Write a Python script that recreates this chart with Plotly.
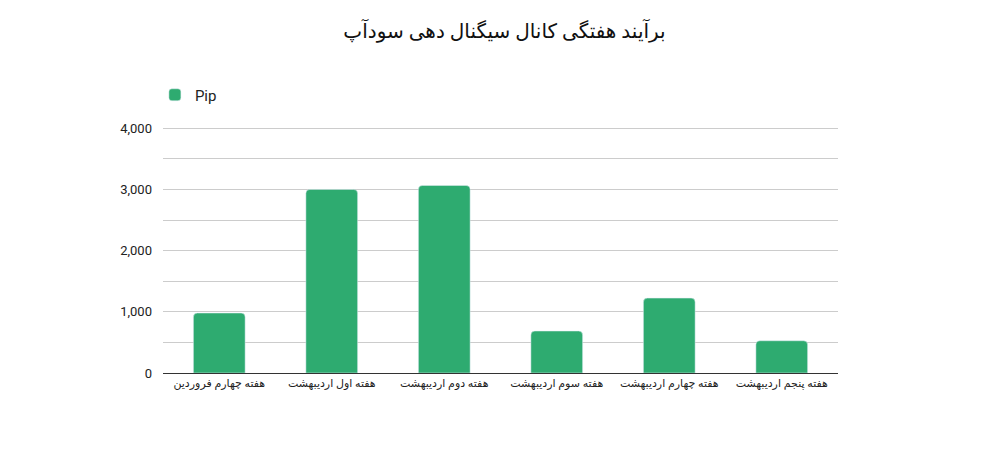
import plotly.graph_objects as go

weeks = [
    "هفته چهارم فروردین",
    "هفته اول اردیبهشت",
    "هفته دوم اردیبهشت",
    "هفته سوم اردیبهشت",
    "هفته چهارم اردیبهشت",
    "هفته پنجم اردیبهشت",
]
pips = [980, 3000, 3065, 686, 1224, 527]
y_ticks = [0, 1000, 2000, 3000, 4000]
y_tick_labels = ["0", "1,000", "2,000", "3,000", "4,000"]

green = "#2eab70"

fig = go.Figure()
fig.add_bar(x=weeks, y=pips, name="Pip", marker=dict(color=green, cornerradius=4))

# page body has an 8px margin, so the figure is drawn a bit smaller
fig.update_layout(
    width=993,
    height=441,
    margin=dict(l=155, r=163, t=119, b=76),
    paper_bgcolor="white",
    plot_bgcolor="white",
    font=dict(family="Roboto, DejaVu Sans, sans-serif", color="#222"),
    title=dict(
        text="برآیند هفتگی کانال سیگنال دهی سودآپ",
        x=0.5, xanchor="center", y=0.948, yanchor="middle",
        font=dict(size=20, color="#111"),
    ),
    bargap=0.54,
    showlegend=True,
    legend=dict(
        x=-0.012, xanchor="left", y=1.13, yanchor="middle",
        orientation="h", font=dict(size=15, color="#222"),
    ),
)
fig.update_xaxes(
    showline=True, linecolor="#333", linewidth=1,
    tickfont=dict(size=11, color="#222"), ticks="",
)
fig.update_yaxes(
    range=[0, 4020], tickvals=y_ticks, ticktext=y_tick_labels,
    showgrid=True, gridcolor="#cccccc",
    minor=dict(dtick=500, showgrid=True, gridcolor="#cccccc"),
    zeroline=True, zerolinecolor="#333", zerolinewidth=1,
    tickfont=dict(size=13, color="#222"), ticks="",
    ticklabelstandoff=10,
)

fig.write_html("out.html")
